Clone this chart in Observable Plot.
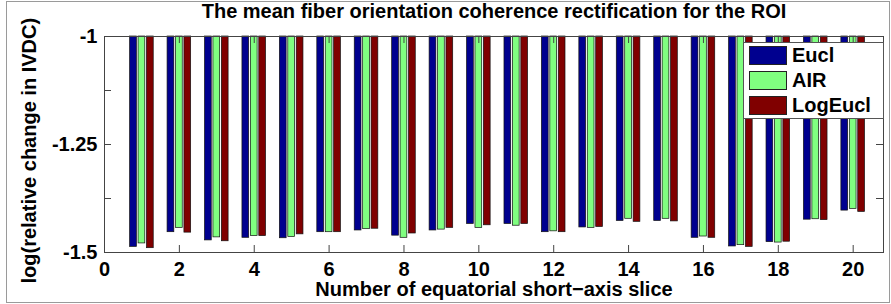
<!DOCTYPE html>
<html><head><meta charset="utf-8">
<script src="https://cdn.jsdelivr.net/npm/d3@7"></script>
<script src="https://cdn.jsdelivr.net/npm/@observablehq/plot@0.6"></script>
<style>
body{margin:0;background:#fff;}
#wrap{position:relative;width:891px;height:304px;overflow:hidden;background:#fff;}
#chart svg{display:block;}
#border{position:absolute;left:6px;top:1px;width:882px;height:300px;border:1px solid #9a9a9a;pointer-events:none;}
#legend{position:absolute;left:743px;top:42px;width:139px;height:75px;background:#fff;border:1px solid #555;font:bold 20px "Liberation Sans", Arial, sans-serif;color:#000;}
.item{position:absolute;left:5px;height:19px;display:flex;align-items:center;white-space:nowrap;}
.sw{width:38px;height:19px;border:1px solid #222;box-sizing:border-box;margin-right:5px;flex:none;}
</style></head><body>
<div id="wrap"><div id="chart"></div><div id="legend"></div><div id="border"></div></div>
<script>
const slices = [1,2,3,4,5,6,7,8,9,10,11,12,13,14,15,16,17,18,19,20];
const eucl    = [-1.487,-1.453,-1.472,-1.466,-1.467,-1.453,-1.449,-1.461,-1.449,-1.434,-1.434,-1.453,-1.442,-1.427,-1.427,-1.466,-1.486,-1.476,-1.424,-1.403];
const air     = [-1.479,-1.443,-1.465,-1.462,-1.464,-1.453,-1.446,-1.466,-1.447,-1.443,-1.438,-1.451,-1.443,-1.422,-1.422,-1.463,-1.483,-1.477,-1.423,-1.399];
const logEucl = [-1.490,-1.454,-1.474,-1.462,-1.458,-1.453,-1.445,-1.456,-1.443,-1.437,-1.434,-1.453,-1.441,-1.429,-1.428,-1.466,-1.487,-1.475,-1.425,-1.406];
const seriesNames = ["Eucl", "AIR", "LogEucl"];
const seriesColors = ["#00008f", "#80ff80", "#800000"];
const xTicks = [0,2,4,6,8,10,12,14,16,18,20];
const yTicks = [-1.5, -1.25, -1];
const yMinorTicks = [-1.375, -1.125];
const yTickLabels = {"-1.5": "-1.5", "-1.25": "-1.25", "-1": "-1"};
const baseline = -1;
const titleText = "The mean fiber orientation coherence rectification for the ROI";
const xLabel = "Number of equatorial short\u2212axis slice";
const yLabel = "log(relative change in IVDC)";

const seriesValues = [eucl, air, logEucl];
const offsets = [-0.225, 0, 0.225];
const halfW = 0.09;
const rows = [];
seriesValues.forEach((vals, k) => vals.forEach((v, i) => rows.push({slice: slices[i], k, series: seriesNames[k], value: v})));

const W = 891, H = 304, mL = 104, mR = 8, mT = 36, mB = 52;
const innerW = W - mL - mR, innerH = H - mT - mB;
const tick = 7;

const chart = Plot.plot({
  width: W, height: H,
  marginLeft: mL, marginRight: mR, marginTop: mT, marginBottom: mB,
  style: {fontFamily: '"Liberation Sans", Arial, sans-serif', fontSize: "20px", fontWeight: "bold", background: "white", color: "black"},
  x: {domain: [0, 20.81], ticks: xTicks, tickFormat: d => String(d)},
  y: {domain: [-1.5, -1], ticks: yTicks, tickFormat: d => yTickLabels[String(d)]},
  marks: [
    Plot.rect(rows, {
      x1: d => d.slice + offsets[d.k] - halfW,
      x2: d => d.slice + offsets[d.k] + halfW,
      y1: () => baseline, y2: d => d.value,
      fill: d => seriesColors[d.k], stroke: "#111", strokeWidth: 0.7
    }),
    Plot.frame({stroke: "#444"}),
    Plot.tickX(xTicks, {x: d => d, insetTop: innerH - tick, stroke: "#444"}),
    Plot.tickX(xTicks, {x: d => d, insetBottom: innerH - tick, stroke: "#444"}),
    Plot.tickY([...yTicks, ...yMinorTicks], {y: d => d, insetRight: innerW - tick, stroke: "#444"}),
    Plot.tickY([...yTicks, ...yMinorTicks], {y: d => d, insetLeft: innerW - tick, stroke: "#444"}),
    Plot.axisX({ticks: xTicks, tickSize: 0, tickPadding: 9, label: null, tickFormat: d => String(d)}),
    Plot.axisY({ticks: yTicks, tickSize: 0, tickPadding: 7, label: null, tickFormat: d => yTickLabels[String(d)]}),
    Plot.text([titleText], {text: d => d, frameAnchor: "top", dy: -24.6, lineAnchor: "middle", fontSize: 20, fontWeight: "bold"}),
    Plot.text([xLabel], {text: d => d, frameAnchor: "bottom", dy: 36.6, lineAnchor: "middle", fontSize: 20, fontWeight: "bold"}),
    Plot.text([yLabel], {text: d => d, frameAnchor: "bottom-left", dx: -75, dy: 31, rotate: -90, textAnchor: "start", lineAnchor: "middle", fontSize: 20, fontWeight: "bold"})
  ]
});
document.getElementById("chart").appendChild(chart);

const legend = document.getElementById("legend");
seriesNames.forEach((name, k) => {
  const item = document.createElement("div");
  item.className = "item";
  item.style.top = (3 + k * 25) + "px";
  const sw = document.createElement("div");
  sw.className = "sw";
  sw.style.background = seriesColors[k];
  const t = document.createElement("span");
  t.textContent = name;
  item.appendChild(sw); item.appendChild(t);
  legend.appendChild(item);
});
</script>
</body></html>
